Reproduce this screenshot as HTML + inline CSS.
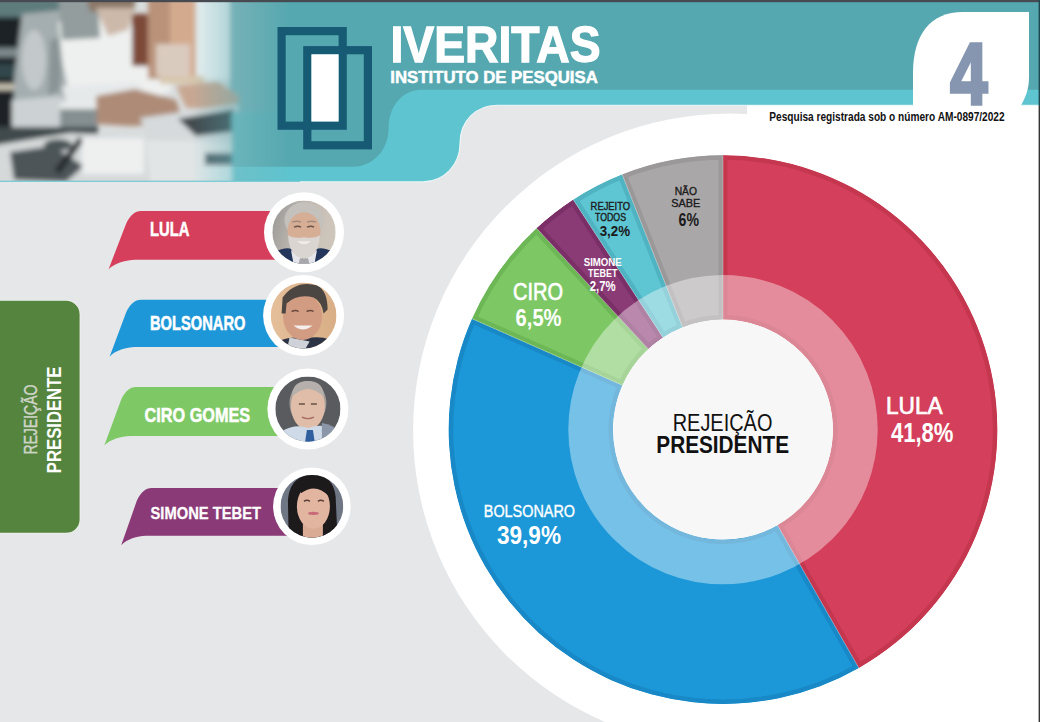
<!DOCTYPE html>
<html lang="pt-BR"><head><meta charset="utf-8"><title>IVERITAS - Rejeição Presidente</title>
<style>
html,body{margin:0;padding:0;width:1040px;height:722px;overflow:hidden;background:#e6e7e9;}
svg{display:block}
text{font-family:"Liberation Sans",sans-serif}
</style></head><body>
<svg width="1040" height="722" viewBox="0 0 1040 722">
<rect x="0" y="0" width="1040" height="722" fill="#e6e7e9"/>
<rect x="747" y="105" width="293" height="618" fill="#ffffff"/>
<circle cx="730.3" cy="430.6" r="317.2" fill="#ffffff"/>
<path d="M0,0 H1040 V105.2 H497 C476,105.2 460,121 460,143 C460,165 444,181.7 423,181.7 L0,181.7 Z" fill="#5ec4cf"/>
<path d="M1040,105.2 H497 C476,105.2 460,121 460,143 C460,165 444,181.7 423,181.7 L300,181.7" fill="none" stroke="#f4fbfc" stroke-width="1.1" stroke-opacity="0.85"/>
<path d="M0,0 H1040 V89.8 H421 C403,89.8 388.6,106 388.6,128 C388.6,150 373,166.7 352.8,166.7 L0,166.7 Z" fill="#56a8b0"/>
<g id="photo">
<defs>
<linearGradient id="phfade" x1="0" y1="0" x2="1" y2="0">
<stop offset="0" stop-color="#fff" stop-opacity="1"/>
<stop offset="0.66" stop-color="#fff" stop-opacity="1"/>
<stop offset="0.82" stop-color="#fff" stop-opacity="0.55"/>
<stop offset="1" stop-color="#fff" stop-opacity="0"/>
</linearGradient>
<mask id="phmask" maskUnits="userSpaceOnUse" x="0" y="0" width="290" height="182">
<rect x="0" y="0" width="290" height="182" fill="url(#phfade)"/>
</mask>
<filter id="bl2" x="-20%" y="-20%" width="140%" height="140%"><feGaussianBlur stdDeviation="2.6"/></filter>
<clipPath id="phclip"><rect x="0" y="0" width="290" height="180.8"/></clipPath>
</defs>
<g mask="url(#phmask)" clip-path="url(#phclip)">
<rect x="0" y="0" width="290" height="182" fill="#d9dddd"/>
<g filter="url(#bl2)">
<rect x="-10" y="-5" width="80" height="22" fill="#5f7c7d"/>
<rect x="60" y="-5" width="30" height="16" fill="#c9cfcf"/>
<path d="M-10,17 L27,17 L24,75 L16,80 L14,150 L-10,150 Z" fill="#1a2125"/>
<rect x="-10" y="48" width="36" height="9" fill="#7d898c"/>
<rect x="-10" y="64" width="30" height="14" fill="#30474c"/>
<rect x="-10" y="84" width="24" height="6" fill="#c9c4b4"/>
<path d="M22,14 L62,10 L80,40 L70,98 L40,128 L14,128 L14,80 Z" fill="#a4adaf"/>
<ellipse cx="34" cy="60" rx="12" ry="30" fill="#c3c9ca"/><path d="M50,40 L64,36 L60,90 L48,96 Z" fill="#8a9496"/>
<path d="M12,100 L60,96 L80,110 L78,132 L12,132 Z" fill="#ccd2d3"/>
<path d="M58,22 L96,10 L132,26 L162,52 L172,90 L150,100 L100,104 L70,98 L62,60 Z" fill="#eef0ef"/>
<rect x="74" y="-5" width="24" height="36" fill="#d8dcdb"/><path d="M58,-5 L98,-5 L100,38 L62,40 Z" fill="#939d9e"/>
<path d="M86,-5 L136,-5 L134,12 L90,12 Z" fill="#8c7868"/>
<path d="M96,8 L134,8 L128,30 L108,36 Z" fill="#cdb9aa"/>
<rect x="132" y="14" width="18" height="52" fill="#7d4a38"/>
<rect x="148" y="-5" width="24" height="84" fill="#b99279"/>
<rect x="170" y="-5" width="27" height="84" fill="#d3aa8e"/>
<rect x="156" y="44" width="34" height="32" fill="#dacbbf"/>
<rect x="196" y="-5" width="36" height="84" fill="#eaf0f1"/>
<rect x="230" y="-5" width="66" height="120" fill="#8ab8bb"/>
<rect x="160" y="76" width="44" height="8" fill="#d8c7ae"/>
<path d="M62,86 L140,82 L150,112 L70,118 Z" fill="#e6e9ea"/>
<rect x="60" y="106" width="38" height="23" fill="#858f92"/><rect x="60" y="103" width="38" height="6" fill="#e9ecec"/>
<path d="M96,96 L135,89 L176,100 L184,124 L130,126 L97,124 Z" fill="#ad8b77"/>
<path d="M176,86 L218,82 L240,96 L236,110 L186,108 Z" fill="#c8a792"/>
<path d="M140,118 L238,104 L242,140 L220,148 L150,140 Z" fill="#d6dadc"/>
<path d="M178,119 L234,109 L232,132 L196,136 Z" fill="#42494d"/>
<rect x="-10" y="127" width="108" height="19" fill="#40484b"/>
<path d="M-10,146 L70,133 L150,136 L245,146 L245,190 L-10,190 Z" fill="#d5d9da"/>
<path d="M10,152 L52,146 L84,166 L66,182 L14,180 Z" fill="#4d5558"/>
<ellipse cx="58" cy="145" rx="14" ry="6" fill="#4b5457"/>
<path d="M54,170 L79,137 L84,140 L60,174 Z" fill="#262c2f"/>
<rect x="82" y="138" width="62" height="36" fill="#eef0f0"/>
<path d="M146,140 L232,142 L240,182 L150,182 Z" fill="#e2e5e6"/>
<rect x="205" y="153" width="40" height="12" fill="#56666d"/>
<rect x="232" y="112" width="64" height="75" fill="#79bdc3"/>
</g>
</g>
</g>
<g fill="none" stroke="#165a73" stroke-width="8.2"><rect x="281.6" y="31.1" width="61.1" height="94.6"/><rect x="307.3" y="50.2" width="60.6" height="95.1"/></g>
<rect x="311.4" y="54.3" width="27.2" height="67.2" fill="#ffffff"/>
<text x="390.5" y="62.3" font-size="50.5" font-weight="bold" fill="#ffffff" textLength="210" lengthAdjust="spacingAndGlyphs" font-family="'Liberation Sans',sans-serif" stroke="#ffffff" stroke-width="1.3">IVERITAS</text>
<text x="390.3" y="83.2" font-size="17.4" font-weight="bold" fill="#ffffff" textLength="207.5" lengthAdjust="spacingAndGlyphs" font-family="'Liberation Sans',sans-serif" stroke="#ffffff" stroke-width="0.5">INSTITUTO DE PESQUISA</text>
<path d="M913,106 V73 C913,35 930,12 963,12 H1029 V77 C1029,90 1025,98 1020.7,106 L913,106 Z" fill="#ffffff"/>
<text x="950.3" y="104.2" font-size="87.7" font-weight="bold" fill="#8796b0" textLength="37.2" lengthAdjust="spacingAndGlyphs" font-family="'Liberation Sans',sans-serif" stroke="#8796b0" stroke-width="3.6" stroke-linejoin="miter">4</text>
<text x="769.3" y="121" font-size="13.4" font-weight="bold" fill="#111111" textLength="235.3" lengthAdjust="spacingAndGlyphs" font-family="'Liberation Sans',sans-serif" >Pesquisa registrada sob o número AM-0897/2022</text>
<defs><clipPath id="c_lula"><path d="M723.00,155.30 A274.3,274.3 0 0 1 858.78,667.94 L777.45,525.18 A110.0,110.0 0 0 0 723.00,319.60 Z"/></clipPath><clipPath id="c_bolso"><path d="M858.78,667.94 A274.3,274.3 0 0 1 472.08,318.79 L622.37,385.16 A110.0,110.0 0 0 0 777.45,525.18 Z"/></clipPath><clipPath id="c_ciro"><path d="M472.08,318.79 A274.3,274.3 0 0 1 536.64,228.33 L648.27,348.89 A110.0,110.0 0 0 0 622.37,385.16 Z"/></clipPath><clipPath id="c_simone"><path d="M536.64,228.33 A274.3,274.3 0 0 1 573.26,199.78 L662.95,337.44 A110.0,110.0 0 0 0 648.27,348.89 Z"/></clipPath><clipPath id="c_rej"><path d="M573.26,199.78 A274.3,274.3 0 0 1 622.12,174.52 L682.54,327.31 A110.0,110.0 0 0 0 662.95,337.44 Z"/></clipPath><clipPath id="c_ns"><path d="M622.12,174.52 A274.3,274.3 0 0 1 723.00,155.30 L723.00,319.60 A110.0,110.0 0 0 0 682.54,327.31 Z"/></clipPath></defs>
<path d="M723.00,155.30 A274.3,274.3 0 0 1 858.78,667.94 L777.45,525.18 A110.0,110.0 0 0 0 723.00,319.60 Z" fill="#d4405b" stroke="#c5374f" stroke-width="9" clip-path="url(#c_lula)"/><path d="M858.78,667.94 A274.3,274.3 0 0 1 472.08,318.79 L622.37,385.16 A110.0,110.0 0 0 0 777.45,525.18 Z" fill="#1c98d8" stroke="#1888c6" stroke-width="9" clip-path="url(#c_bolso)"/><path d="M472.08,318.79 A274.3,274.3 0 0 1 536.64,228.33 L648.27,348.89 A110.0,110.0 0 0 0 622.37,385.16 Z" fill="#7dc865" stroke="#6db756" stroke-width="9" clip-path="url(#c_ciro)"/><path d="M536.64,228.33 A274.3,274.3 0 0 1 573.26,199.78 L662.95,337.44 A110.0,110.0 0 0 0 648.27,348.89 Z" fill="#8a3a75" stroke="#7a2f67" stroke-width="9" clip-path="url(#c_simone)"/><path d="M573.26,199.78 A274.3,274.3 0 0 1 622.12,174.52 L682.54,327.31 A110.0,110.0 0 0 0 662.95,337.44 Z" fill="#5ec5d2" stroke="#4fb3c1" stroke-width="9" clip-path="url(#c_rej)"/><path d="M622.12,174.52 A274.3,274.3 0 0 1 723.00,155.30 L723.00,319.60 A110.0,110.0 0 0 0 682.54,327.31 Z" fill="#aaa7a8" stroke="#9b9899" stroke-width="9" clip-path="url(#c_ns)"/>
<line x1="723.00" y1="319.60" x2="723.00" y2="155.30" stroke="#ffffff" stroke-opacity="0.35" stroke-width="0.8"/><line x1="777.45" y1="525.18" x2="858.78" y2="667.94" stroke="#ffffff" stroke-opacity="0.35" stroke-width="0.8"/><line x1="622.37" y1="385.16" x2="472.08" y2="318.79" stroke="#ffffff" stroke-opacity="0.35" stroke-width="0.8"/><line x1="648.27" y1="348.89" x2="536.64" y2="228.33" stroke="#ffffff" stroke-opacity="0.35" stroke-width="0.8"/><line x1="662.95" y1="337.44" x2="573.26" y2="199.78" stroke="#ffffff" stroke-opacity="0.35" stroke-width="0.8"/><line x1="682.54" y1="327.31" x2="622.12" y2="174.52" stroke="#ffffff" stroke-opacity="0.35" stroke-width="0.8"/>
<circle cx="723.0" cy="429.6" r="132.35" fill="none" stroke="#ffffff" stroke-opacity="0.40" stroke-width="44.69999999999999"/>
<circle cx="723.0" cy="429.6" r="110.0" fill="#f7f7f7"/>
<text x="886" y="414" font-size="24" font-weight="normal" fill="#ffffff" textLength="56.7" lengthAdjust="spacingAndGlyphs" font-family="'Liberation Sans',sans-serif" stroke="#ffffff" stroke-width="0.7">LULA</text>
<text x="890.9" y="442" font-size="27" font-weight="bold" fill="#ffffff" textLength="62.5" lengthAdjust="spacingAndGlyphs" font-family="'Liberation Sans',sans-serif" >41,8%</text>
<text x="483.8" y="516.5" font-size="16" font-weight="normal" fill="#ffffff" textLength="91.2" lengthAdjust="spacingAndGlyphs" font-family="'Liberation Sans',sans-serif" stroke="#ffffff" stroke-width="0.35">BOLSONARO</text>
<text x="497" y="544.2" font-size="26" font-weight="bold" fill="#ffffff" textLength="64" lengthAdjust="spacingAndGlyphs" font-family="'Liberation Sans',sans-serif" >39,9%</text>
<text x="513" y="299.6" font-size="24" font-weight="normal" fill="#ffffff" textLength="50" lengthAdjust="spacingAndGlyphs" font-family="'Liberation Sans',sans-serif" stroke="#ffffff" stroke-width="0.7">CIRO</text>
<text x="515.6" y="325.6" font-size="24" font-weight="bold" fill="#ffffff" textLength="45.9" lengthAdjust="spacingAndGlyphs" font-family="'Liberation Sans',sans-serif" >6,5%</text>
<text x="583.7" y="265.7" font-size="10.5" font-weight="bold" fill="#ffffff" textLength="38.1" lengthAdjust="spacingAndGlyphs" font-family="'Liberation Sans',sans-serif" >SIMONE</text>
<text x="588" y="276.8" font-size="10.5" font-weight="bold" fill="#ffffff" textLength="29.5" lengthAdjust="spacingAndGlyphs" font-family="'Liberation Sans',sans-serif" >TEBET</text>
<text x="589.8" y="290.5" font-size="14" font-weight="bold" fill="#ffffff" textLength="25.9" lengthAdjust="spacingAndGlyphs" font-family="'Liberation Sans',sans-serif" >2,7%</text>
<text x="590.6" y="209.8" font-size="10" font-weight="normal" fill="#1a1a1a" textLength="39.5" lengthAdjust="spacingAndGlyphs" font-family="'Liberation Sans',sans-serif" stroke="#1a1a1a" stroke-width="0.35">REJEITO</text>
<text x="595" y="220.5" font-size="10" font-weight="normal" fill="#1a1a1a" textLength="31" lengthAdjust="spacingAndGlyphs" font-family="'Liberation Sans',sans-serif" stroke="#1a1a1a" stroke-width="0.35">TODOS</text>
<text x="599.7" y="236" font-size="15.5" font-weight="bold" fill="#1a1a1a" textLength="30.4" lengthAdjust="spacingAndGlyphs" font-family="'Liberation Sans',sans-serif" >3,2%</text>
<text x="674.7" y="194.7" font-size="11.5" font-weight="normal" fill="#1a1a1a" textLength="22.3" lengthAdjust="spacingAndGlyphs" font-family="'Liberation Sans',sans-serif" stroke="#1a1a1a" stroke-width="0.35">NÃO</text>
<text x="671.3" y="206.7" font-size="11.5" font-weight="normal" fill="#1a1a1a" textLength="29.1" lengthAdjust="spacingAndGlyphs" font-family="'Liberation Sans',sans-serif" stroke="#1a1a1a" stroke-width="0.35">SABE</text>
<text x="678.6" y="225.8" font-size="19" font-weight="bold" fill="#1a1a1a" textLength="20.4" lengthAdjust="spacingAndGlyphs" font-family="'Liberation Sans',sans-serif" >6%</text>
<text x="672.7" y="430.5" font-size="23.5" font-weight="normal" fill="#111111" textLength="99.7" lengthAdjust="spacingAndGlyphs" font-family="'Liberation Sans',sans-serif" >REJEIÇÃO</text>
<text x="656.3" y="453.4" font-size="23.5" font-weight="bold" fill="#111111" textLength="132.7" lengthAdjust="spacingAndGlyphs" font-family="'Liberation Sans',sans-serif" >PRESIDENTE</text>
<path d="M141,211 L304,211 L304,259.7 L135,259.7 C127,259.7 113.5,263.4 108.5,269.4 L126,224 C130,215 135,211 141,211 Z" fill="#d63f5c"/>
<text x="150" y="236" font-size="19.6" font-weight="bold" fill="#ffffff" textLength="39.5" lengthAdjust="spacingAndGlyphs" font-family="'Liberation Sans',sans-serif" stroke="#ffffff" stroke-width="0.5">LULA</text>
<circle cx="304" cy="232.2" r="40" fill="#ffffff"/>
<clipPath id="fcLULA"><circle cx="304" cy="232.2" r="31.7"/></clipPath><g clip-path="url(#fcLULA)"><defs><linearGradient id="lbg" x1="0" y1="0" x2="1" y2="0.3"><stop offset="0" stop-color="#96959300"/><stop offset="0" stop-color="#979694"/><stop offset="0.55" stop-color="#c2bbb3"/><stop offset="1" stop-color="#cfc6bb"/></linearGradient></defs><rect x="272.3" y="200.5" width="63.4" height="63.4" fill="url(#lbg)"/><ellipse cx="304.0" cy="220.2" rx="19.5" ry="18" fill="#c4c0bc"/><ellipse cx="304.0" cy="231.2" rx="16.5" ry="19" fill="#d6ad95"/><path d="M270.0,266.2 L274.0,252.2 Q286.0,246.2 292.0,249.2 L316.0,249.2 Q322.0,246.2 334.0,252.2 L338.0,266.2 Z" fill="#25365c"/><path d="M291.0,250.2 L300.0,256.2 L308.0,256.2 L317.0,250.2 L314.0,266.2 L294.0,266.2 Z" fill="#e6e6ea"/><path d="M300.0,258.2 L308.0,258.2 L310.0,266.2 L298.0,266.2 Z" fill="#a8a8ac"/><path d="M288.0,235.2 Q289.0,257.2 304.0,258.2 Q319.0,257.2 320.0,235.2 Q314.0,239.2 304.0,237.2 Q294.0,239.2 288.0,235.2 Z" fill="#dad5d0"/><path d="M297.0,241.2 Q304.0,247.2 311.0,241.2 Z" fill="#f1ece8"/><path d="M294.0,227.2 q4,-2 7,0 M307.0,227.2 q4,-2 7,0" stroke="#6d5347" stroke-width="1.4" fill="none"/><path d="M292.0,222.2 q5,-2 9,0 M307.0,222.2 q5,-2 9,0" stroke="#a58a7c" stroke-width="1.4" fill="none"/></g>
<path d="M141,299.8 L303.6,299.8 L303.6,347.1 L135,347.1 C127,347.1 114.6,350.7 109.6,356.7 L126,312.8 C130,303.8 135,299.8 141,299.8 Z" fill="#1e97d8"/>
<text x="150" y="329.8" font-size="19.6" font-weight="bold" fill="#ffffff" textLength="95.4" lengthAdjust="spacingAndGlyphs" font-family="'Liberation Sans',sans-serif" stroke="#ffffff" stroke-width="0.5">BOLSONARO</text>
<circle cx="303.6" cy="315.5" r="40.5" fill="#ffffff"/>
<clipPath id="fcBOLSONARO"><circle cx="303.6" cy="315.5" r="32.9"/></clipPath><g clip-path="url(#fcBOLSONARO)"><defs><linearGradient id="bbg" x1="0" y1="0" x2="1" y2="0"><stop offset="0" stop-color="#e4bf9a"/><stop offset="1" stop-color="#d9ae86"/></linearGradient></defs><rect x="270.7" y="282.6" width="65.8" height="65.8" fill="url(#bbg)"/><path d="M269.6,355.5 L277.6,341.5 Q291.6,335.5 303.6,338.5 Q319.6,335.5 329.6,339.5 L337.6,355.5 Z" fill="#2b3344"/><path d="M289.6,337.5 L309.6,341.5 L301.6,355.5 L285.6,355.5 Z" fill="#cfd2d8"/><ellipse cx="302.6" cy="316.5" rx="19.5" ry="23.5" fill="#d29c83"/><path d="M281.6,313.5 L282.6,297.5 Q295.6,279.5 317.6,285.5 Q327.6,291.5 327.6,309.5 L323.6,313.5 Q321.6,301.5 313.6,297.5 Q297.6,293.5 286.6,303.5 L285.6,313.5 Z" fill="#4c4642"/><path d="M293.6,325.5 Q302.6,333.5 312.6,325.5 Z" fill="#f4efec"/><path d="M291.6,311.5 q4,-2 7,0 M306.6,311.5 q4,-2 7,0" stroke="#6b4a3e" stroke-width="1.5" fill="none"/></g>
<path d="M136,387.1 L307.9,387.1 L307.9,435.9 L130,435.9 C122,435.9 109.3,439.5 104.3,445.5 L121,400.1 C125,391.1 130,387.1 136,387.1 Z" fill="#7ec965"/>
<text x="144.5" y="421.5" font-size="19.6" font-weight="bold" fill="#ffffff" textLength="105.7" lengthAdjust="spacingAndGlyphs" font-family="'Liberation Sans',sans-serif" stroke="#ffffff" stroke-width="0.5">CIRO GOMES</text>
<circle cx="307.9" cy="409.1" r="40.5" fill="#ffffff"/>
<clipPath id="fcCIRO"><circle cx="307.9" cy="409.1" r="32.6"/></clipPath><g clip-path="url(#fcCIRO)"><rect x="275.3" y="376.5" width="65.2" height="65.2" fill="#5a5b5f"/><ellipse cx="307.9" cy="403.1" rx="18.5" ry="22" fill="#a29d99"/><ellipse cx="307.9" cy="406.1" rx="17" ry="23.5" fill="#dfbda8"/><path d="M291.9,397.1 Q291.9,381.1 307.9,381.1 Q323.9,381.1 323.9,397.1 Q315.9,389.1 307.9,389.1 Q299.9,389.1 291.9,397.1 Z" fill="#b5b0ab"/><path d="M298.9,404.1 h6 M310.9,404.1 h6" stroke="#6b5145" stroke-width="1.5"/><path d="M301.9,417.1 q6,3 12,0" stroke="#a86d62" stroke-width="1.4" fill="none"/><path d="M271.9,449.1 L281.9,431.1 Q295.9,423.1 307.9,428.1 Q321.9,423.1 333.9,429.1 L343.9,449.1 Z" fill="#cfdae9"/><path d="M321.9,423.1 Q333.9,425.1 341.9,433.1 L343.9,449.1 L321.9,449.1 Z" fill="#8b96a8"/><path d="M306.9,430.1 L312.9,430.1 L314.9,443.1 L304.9,443.1 Z" fill="#2f5f9e"/></g>
<path d="M151.7,488.1 L311.9,488.1 L311.9,535.7 L145.7,535.7 C137.7,535.7 126.2,539.3 121.2,545.3 L136.7,501.1 C140.7,492.1 145.7,488.1 151.7,488.1 Z" fill="#8a3a76"/>
<text x="150.5" y="518.6" font-size="17.4" font-weight="bold" fill="#ffffff" textLength="110.5" lengthAdjust="spacingAndGlyphs" font-family="'Liberation Sans',sans-serif" stroke="#ffffff" stroke-width="0.3">SIMONE TEBET</text>
<circle cx="311.9" cy="506.3" r="38.8" fill="#ffffff"/>
<clipPath id="fcSIMONE"><circle cx="311.9" cy="506.3" r="31.4"/></clipPath><g clip-path="url(#fcSIMONE)"><rect x="280.5" y="474.9" width="62.8" height="62.8" fill="#6f7785"/><path d="M288.9,546.3 L287.9,500.3 Q289.9,475.3 312.9,474.3 Q335.9,475.3 335.9,502.3 L337.9,546.3 Z" fill="#1d1a1c"/><rect x="302.9" y="520.3" width="20" height="24" fill="#d9ab95"/><path d="M317.9,546.3 L323.9,534.3 Q331.9,530.3 341.9,528.3 L345.9,546.3 Z" fill="#1f2436"/><ellipse cx="313.4" cy="506.3" rx="16.5" ry="22.5" fill="#e2b5a0"/><path d="M299.9,486.3 Q313.9,476.3 329.9,490.3 L328.9,496.3 Q315.9,482.3 300.9,493.3 Z" fill="#1d1a1c"/><path d="M303.9,501.3 q3,-2 6,0 M317.9,501.3 q3,-2 6,0" stroke="#5b3e36" stroke-width="1.4" fill="none"/><ellipse cx="313.4" cy="513.3" rx="5.5" ry="1.6" fill="#c86a78"/></g>
<path d="M0,300.8 H66 A13.6,13.2 0 0 1 79.6,314 V519.6 A13.6,13.2 0 0 1 66,532.8 H0 Z" fill="#55843e" stroke="#f2f8ee" stroke-width="1.6" stroke-opacity="0.7" paint-order="stroke"/>
<text transform="translate(37.2,454.6) rotate(-90)" font-size="17.5" font-family="'Liberation Sans',sans-serif" fill="#cdd4c6" stroke="#cdd4c6" stroke-width="0.45" textLength="70" lengthAdjust="spacingAndGlyphs">REJEIÇÃO</text>
<text transform="translate(60.5,473.2) rotate(-90)" font-size="20" font-weight="bold" font-family="'Liberation Sans',sans-serif" fill="#ffffff" textLength="106.7" lengthAdjust="spacingAndGlyphs">PRESIDENTE</text>
<rect x="0" y="0" width="1040" height="2.2" fill="#474a50"/>
<rect x="1038.6" y="0" width="1.4" height="106" fill="#1e4852"/>
<rect x="1038.6" y="106" width="1.4" height="616" fill="#353535"/>
</svg>
</body></html>
